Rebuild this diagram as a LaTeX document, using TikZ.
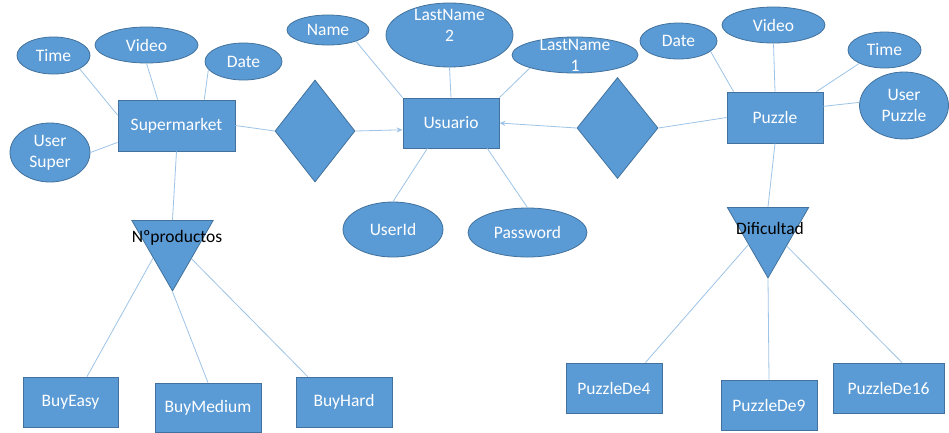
\documentclass[tikz,border=0pt]{standalone}
\usepackage{fontspec}
\setmainfont{Carlito}
\usepackage{tikz}
\usetikzlibrary{shapes.geometric, arrows.meta, positioning, calc}
\definecolor{ERFill}{HTML}{5B9BD5}
\definecolor{ERBorder}{HTML}{41719C}
\definecolor{ERLine}{HTML}{9DC3E6}
\definecolor{ERWhite}{HTML}{ffffff}
\definecolor{ERBlack}{HTML}{000000}
\newcommand{\erfont}{\fontsize{17.5}{21}\selectfont}
\tikzset{
    % Node styles
    entitybox/.style={
        rectangle,
        draw=ERBorder,
        fill=ERFill,
        line width=0.8pt,
        inner sep=0pt,
        text=ERWhite,
        font=\erfont
    },
    attrib/.style={
        ellipse,
        draw=ERBorder,
        fill=ERFill,
        line width=0.8pt,
        inner sep=0pt,
        align=center,
        text=ERWhite,
        font=\erfont
    },
    attrtext/.style={
        align=center,
        text=ERWhite,
        font=\erfont
    },
    relbox/.style={
        diamond,
        draw=ERBorder,
        fill=ERFill,
        line width=0.8pt,
        inner sep=0pt,
        minimum width=80pt,
        minimum height=102pt
    },
    isabox/.style={
        regular polygon,
        regular polygon sides=3,
        shape border rotate=180,
        draw=ERBorder,
        fill=ERFill,
        line width=0.8pt,
        inner sep=0pt,
        minimum size=94pt
    },
    isalabel/.style={
        text=ERBlack,
        font=\erfont
    },
    % Connector styles
    conn/.style={
        draw=ERLine,
        line width=0.8pt
    },
    myarrow/.style={
        ->,
        >={Stealth[length=6pt,width=5pt]},
        conn
    }
}

\begin{document}
\begin{tikzpicture}[x=1pt, y=-1pt]
    \useasboundingbox (0,0) rectangle (949,432);

    % Supermarket entity
    \node[entitybox, minimum width=117pt, minimum height=51pt] (super) at (176.5,125.5) {Supermarket};
    \node[attrib, minimum width=73pt, minimum height=37pt] (stime) at (53.5,55.5) {Time};
    \node[attrib, minimum width=103pt, minimum height=36pt] (svideo) at (146.5,45) {Video};
    \node[attrib, minimum width=77pt, minimum height=37pt] (sdate) at (243.5,61.5) {Date};
    \node[attrib, minimum width=80pt, minimum height=59pt] (suser) at (50,152.5) {User\\Super};

    % Usuario entity
    \node[entitybox, minimum width=96pt, minimum height=50pt] (usuario) at (451,123) {Usuario};
    \node[attrib, minimum width=82pt, minimum height=30pt] (uname) at (328,30) {Name};
    \node[attrib, minimum width=127pt, minimum height=64pt,
          label={[attrtext, yshift=10pt]center:{LastName\\2}}] (ulast2) at (449.5,35) {};
    \node[attrib, minimum width=126pt, minimum height=36pt,
          label={[attrtext]center:{LastName\\1}}] (ulast1) at (575,55) {};
    \node[attrib, minimum width=100pt, minimum height=55pt] (uid) at (393,229.5) {UserId};
    \node[attrib, minimum width=119pt, minimum height=49pt] (upass) at (527.5,232.5) {Password};

    % Puzzle entity
    \node[entitybox, minimum width=96pt, minimum height=51pt] (puzzle) at (775,117.5) {Puzzle};
    \node[attrib, minimum width=77pt, minimum height=36pt] (pdate) at (678.5,41) {Date};
    \node[attrib, minimum width=103pt, minimum height=36pt] (pvideo) at (773.5,25) {Video};
    \node[attrib, minimum width=73pt, minimum height=36pt] (ptime) at (884.5,50) {Time};
    \node[attrib, minimum width=89pt, minimum height=67pt] (puser) at (904,105.5) {User\\Puzzle};

    % Relationships
    \node[relbox] (rsuper) at (315,131) {};
    \node[relbox, minimum width=81pt, minimum height=101pt] (rpuzzle) at (617.5,128) {};

    % Specialisations
    \node[isabox] (isasuper) at (172.5,243.9) {};
    \node[isalabel] (isasuperlbl) at (177,238) {Nºproductos};
    \node[isabox] (isapuzzle) at (768,230.9) {};
    \node[isalabel] (isapuzzlelbl) at (770,228) {Dificultad};

    \node[entitybox, minimum width=95pt, minimum height=50pt] (buyeasy) at (70.5,402) {BuyEasy};
    \node[entitybox, minimum width=106pt, minimum height=49pt] (buymedium) at (208,407.5) {BuyMedium};
    \node[entitybox, minimum width=96pt, minimum height=50pt] (buyhard) at (344,402) {BuyHard};
    \node[entitybox, minimum width=96pt, minimum height=50pt] (pz4) at (614,388) {PuzzleDe4};
    \node[entitybox, minimum width=96pt, minimum height=50pt] (pz9) at (769,405) {PuzzleDe9};
    \node[entitybox, minimum width=111pt, minimum height=50pt] (pz16) at (888.5,388) {PuzzleDe16};

    % Attribute links
    \draw[conn] (stime.-27) -- (super.170);
    \draw[conn] (svideo.south) -- (super.126);
    \draw[conn] (sdate.-167) -- (super.43);
    \draw[conn] (suser.east) -- (super.-164);
    \draw[conn] (uname.-22) -- (usuario.north west);
    \draw[conn] (ulast2.south) -- (usuario.north);
    \draw[conn] (ulast1.196) -- (usuario.north east);
    \draw[conn] (uid.north) -- (usuario.-133);
    \draw[conn] (upass.north) -- (usuario.-35);
    \draw[conn] (pdate.-18) -- (puzzle.148);
    \draw[conn] (pvideo.south) -- (puzzle.north);
    \draw[conn] (ptime.208) -- (puzzle.32);
    \draw[conn] (puser.176) -- (puzzle.13);

    % Relationship links
    \draw[conn] (super.east) -- (rsuper.west);
    \draw[myarrow] (rsuper.east) -- (usuario.188);
    \draw[conn] (puzzle.west) -- (rpuzzle.east);
    \draw[myarrow] (rpuzzle.west) -- (usuario.east);

    % Specialisation links
    \draw[conn] (super.south) -- (isasuper.north);
    \draw[conn] (isasuper.216) -- (buyeasy.57);
    \draw[conn] (isasuper.south) -- (buymedium.north);
    \draw[conn] (isasuper.-38) -- (buyhard.145);
    \draw[conn] (puzzle.south) -- (isapuzzle.north);
    \draw[conn] (isapuzzle.215) -- (pz4.39);
    \draw[conn] (isapuzzle.south) -- (pz9.north);
    \draw[conn] (isapuzzle.-39) -- (pz16.62);
\end{tikzpicture}
\end{document}
